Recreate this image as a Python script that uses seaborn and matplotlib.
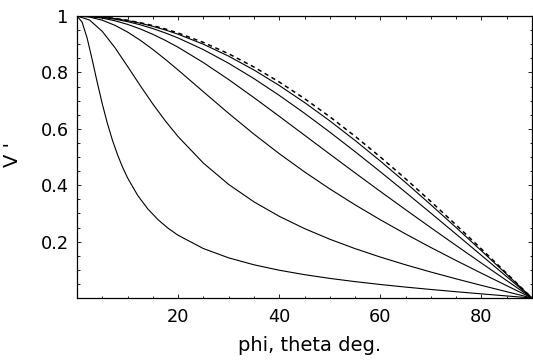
import matplotlib
matplotlib.use("Agg")
import matplotlib.pyplot as plt
import seaborn as sns
from matplotlib.ticker import MultipleLocator, FixedLocator

# ---- data ----
x_std = [0, 2.5, 5, 7.5, 10, 12.5, 15, 17.5, 20, 25, 30, 35, 40, 45, 50,
         55, 60, 65, 70, 75, 80, 85, 90]
v_dashed = [1, 0.99905, 0.99619, 0.99144, 0.98481, 0.97630, 0.96593, 0.95372,
            0.93969, 0.90631, 0.86603, 0.81915, 0.76604, 0.70711, 0.64279,
            0.57358, 0.5, 0.42262, 0.34202, 0.25882, 0.17365, 0.08716, 0]
v_c6 = [1, 0.99897, 0.99590, 0.99077, 0.98362, 0.97447, 0.96335, 0.95029,
        0.93533, 0.89990, 0.85749, 0.80858, 0.75369, 0.69338, 0.62821,
        0.55877, 0.48564, 0.40938, 0.33054, 0.24967, 0.16728, 0.08389, 0]
v_c5 = [1, 0.99874, 0.99495, 0.98867, 0.97994, 0.96884, 0.95542, 0.93980,
        0.92207, 0.88073, 0.83237, 0.77801, 0.71862, 0.65512, 0.58834,
        0.51898, 0.44766, 0.37486, 0.30097, 0.22631, 0.15114, 0.07565, 0]
v_c4 = [1, 0.99810, 0.99243, 0.98311, 0.97029, 0.95420, 0.93511, 0.91332,
        0.88913, 0.83482, 0.77460, 0.71056, 0.64440, 0.57735, 0.51027,
        0.44371, 0.37796, 0.31314, 0.24924, 0.18616, 0.12372, 0.06175, 0]
v_c3 = [1, 0.99621, 0.98503, 0.96704, 0.94308, 0.91417, 0.88140, 0.84587,
        0.80848, 0.73132, 0.65465, 0.58112, 0.51189, 0.44721, 0.38688,
        0.33044, 0.27735, 0.22706, 0.17904, 0.13279, 0.08782, 0.04370, 0]
v_c2 = [1, 0.98555, 0.94549, 0.88783, 0.82147, 0.75340, 0.68796, 0.62735,
        0.57228, 0.47835, 0.40269, 0.34101, 0.28972, 0.24618, 0.20845,
        0.17510, 0.14510, 0.11762, 0.09206, 0.06790, 0.04474, 0.02222, 0]
x_steep = [0, 1, 2, 3, 4, 5, 6, 7, 8, 9, 10, 12, 14, 16, 18, 20, 25, 30, 35,
           40, 45, 50, 55, 60, 65, 70, 75, 80, 85, 90]
v_c1 = [1, 0.97862, 0.92181, 0.84568, 0.76494, 0.68846, 0.61995, 0.56024,
        0.50872, 0.46437, 0.42609, 0.36391, 0.31601, 0.27818, 0.24763,
        0.22245, 0.17533, 0.14237, 0.11778, 0.09849, 0.08276, 0.06952,
        0.05805, 0.04789, 0.03870, 0.03021, 0.02225, 0.01464, 0.00727, 0]

x_ticks = [20, 40, 60, 80]
y_ticks = [0.2, 0.4, 0.6, 0.8, 1.0]
y_ticklabels = ["0.2", "0.4", "0.6", "0.8", "1"]

sns.set_theme(style="ticks")
plt.rcParams["font.family"] = ["DejaVu Sans"]

fig = plt.figure(figsize=(5.33, 3.61), dpi=100)
ax = fig.add_axes([77 / 533, 1 - 298 / 361, 455 / 533, 282 / 361])

solid = [(x_std, v_c6), (x_std, v_c5), (x_std, v_c4), (x_std, v_c3),
         (x_std, v_c2), (x_steep, v_c1)]
for xs, ys in solid:
    sns.lineplot(x=xs, y=ys, ax=ax, color="black", linewidth=0.8,
                 estimator=None, sort=False)
sns.lineplot(x=x_std, y=v_dashed, ax=ax, color="black", linewidth=1.1,
             estimator=None, sort=False)
ax.lines[-1].set_dashes((2.8, 2.4))

ax.set_xlim(0, 90)
ax.set_ylim(0, 1)
ax.xaxis.set_major_locator(FixedLocator(x_ticks))
ax.xaxis.set_minor_locator(MultipleLocator(5))
ax.yaxis.set_major_locator(FixedLocator(y_ticks))
ax.set_yticklabels(y_ticklabels)
ax.yaxis.set_minor_locator(MultipleLocator(0.05))

for s in ax.spines.values():
    s.set_visible(True)
    s.set_color("black")
    s.set_linewidth(0.9)

ax.tick_params(which="both", direction="in", top=True, right=True,
               colors="black", width=0.6)
ax.tick_params(which="major", length=3.2, labelsize=12.8)
ax.tick_params(axis="x", which="major", pad=7)
ax.tick_params(axis="y", which="major", pad=6)
ax.tick_params(which="minor", length=1.8)

ax.set_xlabel("phi, theta deg.", fontsize=14, color="black")
ax.set_ylabel("V '", fontsize=14, color="black")
ax.xaxis.set_label_coords(0.512, -0.135)
ax.yaxis.set_label_coords(-0.12, 0.51)

fig.savefig("out.png", dpi=100)
